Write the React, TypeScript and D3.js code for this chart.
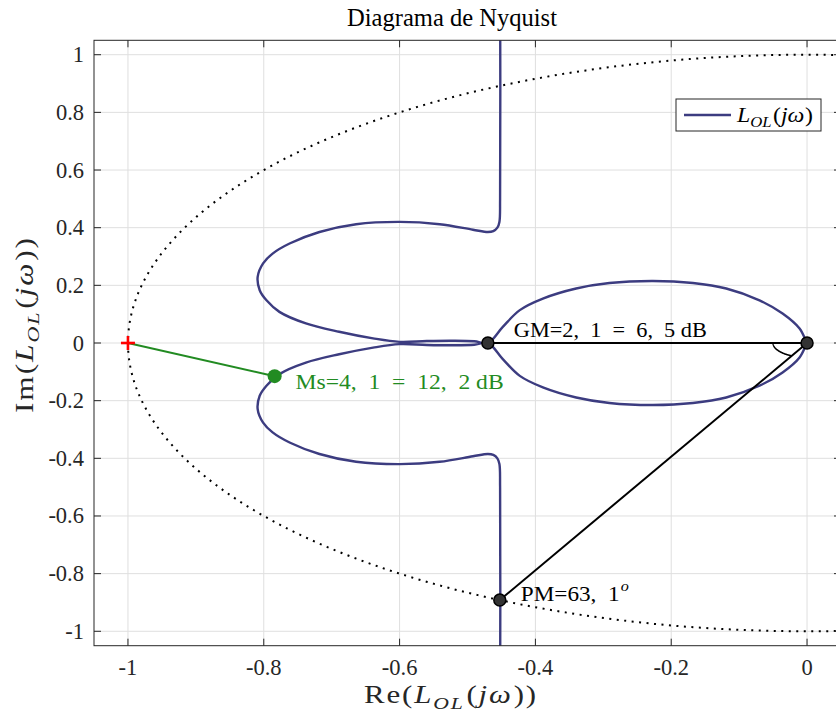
import React from "react";
import * as d3 from "d3";

// Positive-frequency branch of L_OL(jw) (origin -> top)
const upperRe = [0, -0.001, -0.011, -0.036, -0.07, -0.119, -0.168, -0.227, -0.291, -0.34, -0.389, -0.423, -0.448, -0.47, -0.49, -0.52, -0.56, -0.6, -0.639, -0.689, -0.738, -0.777, -0.796, -0.806, -0.809, -0.801, -0.787, -0.762, -0.718, -0.664, -0.6, -0.541, -0.492, -0.47, -0.462, -0.456, -0.453, -0.452, -0.452];
const upperIm = [0, 0.004, 0.05, 0.102, 0.148, 0.189, 0.208, 0.215, 0.208, 0.189, 0.154, 0.114, 0.056, 0, 0.006, 0.008, 0.007, 0.004, 0.016, 0.039, 0.068, 0.108, 0.148, 0.183, 0.229, 0.276, 0.31, 0.345, 0.385, 0.412, 0.42, 0.412, 0.393, 0.385, 0.388, 0.4, 0.42, 0.5, 1.3];

const xTicks = [-1, -0.8, -0.6, -0.4, -0.2, 0];
const yTicks = [1, 0.8, 0.6, 0.4, 0.2, 0, -0.2, -0.4, -0.6, -0.8, -1];

const criticalPoint = [-1, 0];
const msPoint = [-0.784, -0.115];
const gmPoint = [-0.47, 0];
const originPoint = [0, 0];
const pmDeg = 63.1;
const pmPoint = [-Math.cos((pmDeg * Math.PI) / 180), -Math.sin((pmDeg * Math.PI) / 180)];

const SP = "\u2002";
const msLabel = `Ms=4,${SP}1${SP}=${SP}12,${SP}2 dB`;
const gmLabel = `GM=2,${SP}1${SP}=${SP}6,${SP}5 dB`;
const pmLabel = `PM=63,${SP}1`;

const W = 836, H = 715;
const L = 94, R = 841, T = 40.3, B = 645.7;
const FONT = "'Liberation Serif', 'Times New Roman', serif";
const AX = "#262626";
const CURVE = "#3c3c80";
const GREEN = "#228b22";

export default function App() {
  const x = d3.scaleLinear().domain([-1.05, 0.05]).range([L, R]);
  const y = d3.scaleLinear().domain([-1.05, 1.05]).range([B, T]);

  const upper = upperRe.map((r, i) => [r, upperIm[i]]);
  const lower = upper.map(([r, i]) => [r, -i]);
  const full = [...upper.slice().reverse(), ...lower.slice(1)];
  const line = d3
    .line<number[]>()
    .x((d) => x(d[0]))
    .y((d) => y(d[1]))
    .curve(d3.curveCatmullRom.alpha(0.5));

  const circ = d3.range(0, 361, 1).map((a) => [Math.cos((a * Math.PI) / 180), Math.sin((a * Math.PI) / 180)]);
  const linL = d3.line<number[]>().x((d) => x(d[0])).y((d) => y(d[1]));

  const arcPts = d3.range(180, 180 + pmDeg + 0.01, 1).map((a) => [0.05 * Math.cos((a * Math.PI) / 180), 0.05 * Math.sin((a * Math.PI) / 180)]);

  const dot = (p: number[], key: string) => (
    <circle key={key} cx={x(p[0])} cy={y(p[1])} r={6} fill="#333333" stroke="#000" strokeWidth={1.5} />
  );

  const LOL = (size: number) => (
    <>
      <tspan fontStyle="italic">L</tspan>
      <tspan fontStyle="italic" fontSize={size * 0.7} dy={size * 0.22}>OL</tspan>
      <tspan dy={-size * 0.22} dx={size * 0.06}>(</tspan>
      <tspan fontStyle="italic">jω</tspan>
      <tspan dx={size * 0.03}>)</tspan>
    </>
  );

  return (
    <svg width={W} height={H} style={{ position: "absolute", left: 0, top: 0, background: "#fff" }} fontFamily={FONT}>
      <defs>
        <clipPath id="plot">
          <rect x={L} y={T} width={R - L} height={B - T} />
        </clipPath>
      </defs>
      <rect x={0} y={0} width={W} height={H} fill="#fff" />
      {/* grid */}
      {xTicks.map((t) => (
        <line key={"gx" + t} x1={x(t)} x2={x(t)} y1={T} y2={B} stroke="#dfdfdf" strokeWidth={1} />
      ))}
      {yTicks.map((t) => (
        <line key={"gy" + t} x1={L} x2={R} y1={y(t)} y2={y(t)} stroke="#dfdfdf" strokeWidth={1} />
      ))}
      <g clipPath="url(#plot)">
        <path d={linL(circ) || ""} fill="none" stroke="#000" strokeWidth={2} strokeDasharray="2 5.5" />
        <path d={line(full) || ""} fill="none" stroke={CURVE} strokeWidth={2.4} strokeLinejoin="round" />
        {/* Ms */}
        <line x1={x(criticalPoint[0])} y1={y(criticalPoint[1])} x2={x(msPoint[0])} y2={y(msPoint[1])} stroke={GREEN} strokeWidth={2} />
        <circle cx={x(msPoint[0])} cy={y(msPoint[1])} r={7} fill={GREEN} />
        {/* GM */}
        <line x1={x(gmPoint[0])} y1={y(0)} x2={x(0)} y2={y(0)} stroke="#000" strokeWidth={2} />
        {/* PM */}
        <line x1={x(0)} y1={y(0)} x2={x(pmPoint[0])} y2={y(pmPoint[1])} stroke="#000" strokeWidth={2} />
        <path d={linL(arcPts) || ""} fill="none" stroke="#000" strokeWidth={1.6} />
        {dot(gmPoint, "gm")}
        {dot(originPoint, "o")}
        {dot(pmPoint, "pm")}
        {/* critical point */}
        <g stroke="#ff0000" strokeWidth={2.6}>
          <line x1={x(-1) - 7} x2={x(-1) + 7} y1={y(0)} y2={y(0)} />
          <line x1={x(-1)} x2={x(-1)} y1={y(0) - 7} y2={y(0) + 7} />
        </g>
      </g>
      {/* labels in plot */}
      <text x={x(msPoint[0]) + 21} y={y(msPoint[1]) + 13} fill={GREEN} fontSize={21.5} textLength={208} lengthAdjust="spacingAndGlyphs">{msLabel}</text>
      <text x={x(gmPoint[0]) + 26} y={y(0) - 6} fill="#000" fontSize={21.5} textLength={193} lengthAdjust="spacingAndGlyphs">{gmLabel}</text>
      <text x={x(pmPoint[0]) + 21} y={y(pmPoint[1]) + 1} fill="#000" fontSize={21.5} textLength={108} lengthAdjust="spacingAndGlyphs">
        {pmLabel}
        <tspan fontStyle="italic" fontSize={15} dy={-10} dx={1}>o</tspan>
      </text>
      {/* frame */}
      <rect x={L} y={T} width={R - L} height={B - T} fill="none" stroke={AX} strokeWidth={1} />
      {xTicks.map((t) => (
        <g key={"tx" + t} stroke={AX}>
          <line x1={x(t)} x2={x(t)} y1={B} y2={B - 7} />
          <line x1={x(t)} x2={x(t)} y1={T} y2={T + 7} />
        </g>
      ))}
      {yTicks.map((t) => (
        <g key={"ty" + t} stroke={AX}>
          <line x1={L} x2={L + 7} y1={y(t)} y2={y(t)} />
          <line x1={R} x2={R - 7} y1={y(t)} y2={y(t)} />
        </g>
      ))}
      {xTicks.map((t) => (
        <text key={"lx" + t} x={x(t)} y={B + 29} textAnchor="middle" fontSize={22.5} fill={AX}>
          {String(t)}
        </text>
      ))}
      {yTicks.map((t) => (
        <text key={"ly" + t} x={L - 10} y={y(t) + 7.5} textAnchor="end" fontSize={22.5} fill={AX}>
          {String(t)}
        </text>
      ))}
      {/* title & axis labels */}
      <text x={347} y={26} fontSize={24.5} fill="#000" textLength={210} lengthAdjust="spacingAndGlyphs">Diagrama de Nyquist</text>
      <text x={364} y={703} fontSize={25} fill={AX} letterSpacing={1.5} textLength={174} lengthAdjust="spacingAndGlyphs">
        Re({LOL(25)})
      </text>
      <text transform={`translate(33,413) rotate(-90)`} fontSize={25} fill={AX} letterSpacing={1.5} textLength={177} lengthAdjust="spacingAndGlyphs">
        Im({LOL(25)})
      </text>
      {/* legend */}
      <rect x={676} y={99} width={145} height={32} fill="#fff" stroke={AX} strokeWidth={1} />
      <line x1={684} x2={731} y1={115} y2={115} stroke={CURVE} strokeWidth={2.4} />
      <text x={737} y={122} fontSize={21.5} fill="#000" textLength={76} lengthAdjust="spacingAndGlyphs">{LOL(21.5)}</text>
    </svg>
  );
}
